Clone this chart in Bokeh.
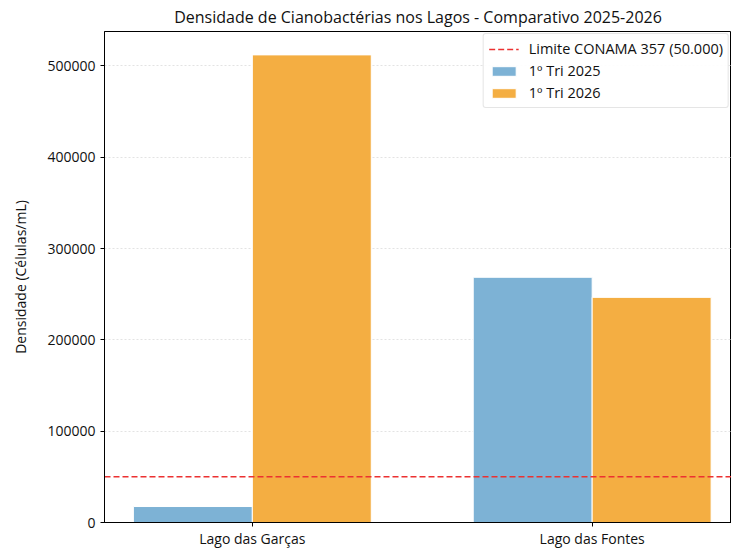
from bokeh.plotting import figure
from bokeh.models import ColumnDataSource, Range1d, FixedTicker, BasicTickFormatter, Legend, LegendItem
from bokeh.transform import dodge
from bokeh.embed import file_html
from bokeh.resources import INLINE

lakes = ["Lago das Garças", "Lago das Fontes"]
tri_2025 = [17500, 268500]
tri_2026 = [512000, 246500]
limit = 50000
yticks = [0, 100000, 200000, 300000, 400000, 500000]

FONT = "Open Sans"
BLUE = "#7db2d5"
ORANGE = "#f4ae42"
RED = "#ec3131"

xs = list(range(len(lakes)))
src = ColumnDataSource(dict(x=xs, a=tri_2025, b=tri_2026))

xr = Range1d(-0.435, 1.41)
p = figure(output_backend="svg", toolbar_location=None,
           frame_width=627, frame_height=491,
           x_range=xr,
           y_range=Range1d(0, max(tri_2025 + tri_2026) * 1.05),
           min_border_left=104, min_border_right=0, min_border_top=4, min_border_bottom=2)

p.title.text = "Densidade de Cianobactérias nos Lagos - Comparativo 2025-2026"
p.title.align = "center"
p.title.text_font = FONT
p.title.text_font_size = "16px"
p.title.text_font_style = "normal"
p.title.text_color = "#111111"
p.title.offset = 0
p.title.standoff = 7

r25 = p.vbar(x=dodge("x", -0.175, range=p.x_range), top="a", width=0.35, source=src,
             fill_color=BLUE, line_color="white", line_width=1)
r26 = p.vbar(x=dodge("x", 0.175, range=p.x_range), top="b", width=0.35, source=src,
             fill_color=ORANGE, line_color="white", line_width=1)

rl = p.line(x=[xr.start, xr.end], y=[limit, limit], line_color=RED, line_dash="6 3", line_width=1.5)

legend = Legend(items=[
    LegendItem(label="Limite CONAMA 357 (50.000)", renderers=[rl]),
    LegendItem(label="1º Tri 2025", renderers=[r25]),
    LegendItem(label="1º Tri 2026", renderers=[r26]),
], location="top_right")
legend.label_text_font = FONT
legend.label_text_font_size = "14.5px"
legend.label_text_color = "#111111"
legend.glyph_width = 30
legend.glyph_height = 12
legend.label_height = 16
legend.label_standoff = 10
legend.spacing = 3
legend.padding = 5
legend.margin = 2
legend.border_line_color = "#cccccc"
legend.border_line_width = 1
legend.background_fill_alpha = 0.9
legend.border_radius = 3
p.add_layout(legend)

p.xaxis.ticker = FixedTicker(ticks=xs)
p.xaxis.major_label_overrides = {i: n for i, n in enumerate(lakes)}
p.yaxis.ticker = FixedTicker(ticks=yticks)
p.yaxis.formatter = BasicTickFormatter(use_scientific=False)
p.yaxis.axis_label = "Densidade (Células/mL)"

for ax in (p.xaxis[0], p.yaxis[0]):
    ax.axis_line_color = "black"
    ax.axis_line_width = 1
    ax.major_tick_line_color = "black"
    ax.major_tick_out = 4
    ax.major_tick_in = 0
    ax.minor_tick_line_color = None
    ax.major_label_text_font = FONT
    ax.major_label_text_font_size = "14px"
    ax.major_label_text_color = "#111111"
    ax.axis_label_text_font = FONT
    ax.axis_label_text_font_size = "14px"
    ax.axis_label_text_font_style = "normal"
    ax.axis_label_text_color = "#111111"
p.xaxis.major_label_standoff = 2
p.yaxis.major_label_standoff = 5
p.yaxis.axis_label_standoff = 14

p.xgrid.grid_line_color = None
p.ygrid.ticker = FixedTicker(ticks=yticks)
p.ygrid.grid_line_color = "#e3e3e3"
p.ygrid.grid_line_dash = "2 2"
p.ygrid.grid_line_width = 1
p.outline_line_color = "black"
p.outline_line_width = 1
p.outline_line_alpha = 1

open("out.html", "w").write(file_html(p, INLINE))
